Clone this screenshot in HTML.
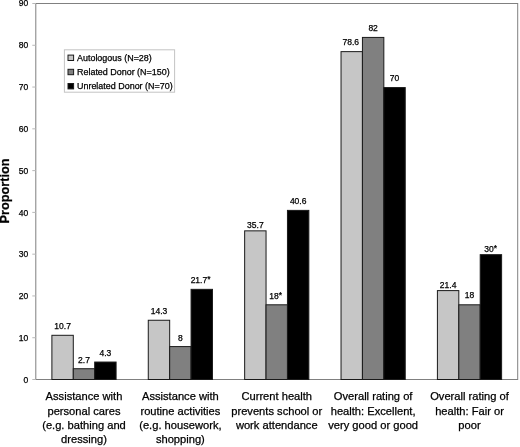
<!DOCTYPE html><html><head><meta charset="utf-8"><style>html,body{margin:0;padding:0;background:#fff}body{width:520px;height:447px;overflow:hidden}svg{display:block;will-change:transform;transform:translateZ(0)}text{font-family:"Liberation Sans",sans-serif;fill:#000;stroke:#000;stroke-width:0.25px}</style></head><body>
<svg width="520" height="447" viewBox="0 0 520 447">
<rect width="520" height="447" fill="#fff"/>
<rect x="35.8" y="3.5" width="481.90000000000003" height="376.0" fill="none" stroke="#808080" stroke-width="1"/>
<line x1="32.3" y1="379.50" x2="35.8" y2="379.50" stroke="#b8b8b8" stroke-width="1"/>
<text x="28.3" y="382.70" font-size="8.5" text-anchor="end">0</text>
<line x1="32.3" y1="337.72" x2="35.8" y2="337.72" stroke="#b8b8b8" stroke-width="1"/>
<text x="28.3" y="340.92" font-size="8.5" text-anchor="end">10</text>
<line x1="32.3" y1="295.94" x2="35.8" y2="295.94" stroke="#b8b8b8" stroke-width="1"/>
<text x="28.3" y="299.14" font-size="8.5" text-anchor="end">20</text>
<line x1="32.3" y1="254.17" x2="35.8" y2="254.17" stroke="#b8b8b8" stroke-width="1"/>
<text x="28.3" y="257.37" font-size="8.5" text-anchor="end">30</text>
<line x1="32.3" y1="212.39" x2="35.8" y2="212.39" stroke="#b8b8b8" stroke-width="1"/>
<text x="28.3" y="215.59" font-size="8.5" text-anchor="end">40</text>
<line x1="32.3" y1="170.61" x2="35.8" y2="170.61" stroke="#b8b8b8" stroke-width="1"/>
<text x="28.3" y="173.81" font-size="8.5" text-anchor="end">50</text>
<line x1="32.3" y1="128.83" x2="35.8" y2="128.83" stroke="#b8b8b8" stroke-width="1"/>
<text x="28.3" y="132.03" font-size="8.5" text-anchor="end">60</text>
<line x1="32.3" y1="87.06" x2="35.8" y2="87.06" stroke="#b8b8b8" stroke-width="1"/>
<text x="28.3" y="90.26" font-size="8.5" text-anchor="end">70</text>
<line x1="32.3" y1="45.28" x2="35.8" y2="45.28" stroke="#b8b8b8" stroke-width="1"/>
<text x="28.3" y="48.48" font-size="8.5" text-anchor="end">80</text>
<line x1="32.3" y1="3.50" x2="35.8" y2="3.50" stroke="#b8b8b8" stroke-width="1"/>
<text x="28.3" y="5.90" font-size="8.5" text-anchor="end">90</text>
<rect x="51.89" y="335.30" width="21.40" height="44.20" fill="#c6c6c6" stroke="#1a1a1a" stroke-width="1"/>
<text x="62.59" y="329.30" font-size="8.5" text-anchor="middle">10.7</text>
<rect x="73.29" y="368.72" width="21.40" height="10.78" fill="#808080" stroke="#1a1a1a" stroke-width="1"/>
<text x="83.99" y="362.72" font-size="8.5" text-anchor="middle">2.7</text>
<rect x="94.69" y="362.04" width="21.40" height="17.46" fill="#000000" stroke="#1a1a1a" stroke-width="1"/>
<text x="105.39" y="356.04" font-size="8.5" text-anchor="middle">4.3</text>
<rect x="148.27" y="320.26" width="21.40" height="59.24" fill="#c6c6c6" stroke="#1a1a1a" stroke-width="1"/>
<text x="158.97" y="314.26" font-size="8.5" text-anchor="middle">14.3</text>
<rect x="169.67" y="346.58" width="21.40" height="32.92" fill="#808080" stroke="#1a1a1a" stroke-width="1"/>
<text x="180.37" y="340.58" font-size="8.5" text-anchor="middle">8</text>
<rect x="191.07" y="289.34" width="21.40" height="90.16" fill="#000000" stroke="#1a1a1a" stroke-width="1"/>
<text x="200.57" y="283.34" font-size="8.5" text-anchor="middle">21.7<tspan dy="-1.2" font-size="8.5">*</tspan></text>
<rect x="244.65" y="230.85" width="21.40" height="148.65" fill="#c6c6c6" stroke="#1a1a1a" stroke-width="1"/>
<text x="255.35" y="227.55" font-size="8.5" text-anchor="middle">35.7</text>
<rect x="266.05" y="304.80" width="21.40" height="74.70" fill="#808080" stroke="#1a1a1a" stroke-width="1"/>
<text x="275.55" y="298.80" font-size="8.5" text-anchor="middle">18<tspan dy="-1.2" font-size="8.5">*</tspan></text>
<rect x="287.45" y="210.38" width="21.40" height="169.12" fill="#000000" stroke="#1a1a1a" stroke-width="1"/>
<text x="298.15" y="204.38" font-size="8.5" text-anchor="middle">40.6</text>
<rect x="341.03" y="51.63" width="21.40" height="327.87" fill="#c6c6c6" stroke="#1a1a1a" stroke-width="1"/>
<text x="350.73" y="45.23" font-size="8.5" text-anchor="middle">78.6</text>
<rect x="362.43" y="37.42" width="21.40" height="342.08" fill="#808080" stroke="#1a1a1a" stroke-width="1"/>
<text x="373.13" y="31.42" font-size="8.5" text-anchor="middle">82</text>
<rect x="383.83" y="87.56" width="21.40" height="291.94" fill="#000000" stroke="#1a1a1a" stroke-width="1"/>
<text x="394.53" y="81.06" font-size="8.5" text-anchor="middle">70</text>
<rect x="437.41" y="290.60" width="21.40" height="88.90" fill="#c6c6c6" stroke="#1a1a1a" stroke-width="1"/>
<text x="448.11" y="287.70" font-size="8.5" text-anchor="middle">21.4</text>
<rect x="458.81" y="304.80" width="21.40" height="74.70" fill="#808080" stroke="#1a1a1a" stroke-width="1"/>
<text x="469.51" y="298.00" font-size="8.5" text-anchor="middle">18</text>
<rect x="480.21" y="254.67" width="21.40" height="124.83" fill="#000000" stroke="#1a1a1a" stroke-width="1"/>
<text x="490.71" y="252.27" font-size="8.5" text-anchor="middle">30<tspan dy="-1.2" font-size="8.5">*</tspan></text>
<text x="83.99" y="400.40" font-size="11.15" text-anchor="middle">Assistance with</text>
<text x="83.99" y="414.60" font-size="11.15" text-anchor="middle">personal cares</text>
<text x="83.99" y="428.70" font-size="11.15" text-anchor="middle">(e.g. bathing and</text>
<text x="83.99" y="442.80" font-size="11.15" text-anchor="middle">dressing)</text>
<text x="180.37" y="400.40" font-size="11.15" text-anchor="middle">Assistance with</text>
<text x="180.37" y="414.60" font-size="11.15" text-anchor="middle">routine activities</text>
<text x="180.37" y="428.70" font-size="11.15" text-anchor="middle">(e.g. housework,</text>
<text x="180.37" y="442.80" font-size="11.15" text-anchor="middle">shopping)</text>
<text x="276.75" y="400.40" font-size="11.15" text-anchor="middle">Current health</text>
<text x="276.75" y="414.60" font-size="11.15" text-anchor="middle">prevents school or</text>
<text x="276.75" y="428.70" font-size="11.15" text-anchor="middle">work attendance</text>
<text x="373.13" y="400.40" font-size="11.15" text-anchor="middle">Overall rating of</text>
<text x="373.13" y="414.60" font-size="11.15" text-anchor="middle">health: Excellent,</text>
<text x="373.13" y="428.70" font-size="11.15" text-anchor="middle">very good or good</text>
<text x="469.51" y="400.40" font-size="11.15" text-anchor="middle">Overall rating of</text>
<text x="469.51" y="414.60" font-size="11.15" text-anchor="middle">health: Fair or</text>
<text x="469.51" y="428.70" font-size="11.15" text-anchor="middle">poor</text>
<text transform="translate(8.9,191) rotate(-90)" font-size="12.7" font-weight="bold" text-anchor="middle">Proportion</text>
<rect x="64.4" y="49.8" width="110.2" height="42.4" fill="#fff" stroke="#c4c4c4" stroke-width="1"/>
<rect x="68" y="55.10" width="5.6" height="5.4" fill="#c6c6c6" stroke="#1a1a1a" stroke-width="1"/>
<text x="77" y="60.70" font-size="8.95">Autologous (N=28)</text>
<rect x="68" y="69.30" width="5.6" height="5.4" fill="#808080" stroke="#1a1a1a" stroke-width="1"/>
<text x="77" y="74.90" font-size="8.95">Related Donor (N=150)</text>
<rect x="68" y="83.50" width="5.6" height="5.4" fill="#000000" stroke="#1a1a1a" stroke-width="1"/>
<text x="77" y="89.10" font-size="8.95">Unrelated Donor (N=70)</text>
</svg></body></html>
